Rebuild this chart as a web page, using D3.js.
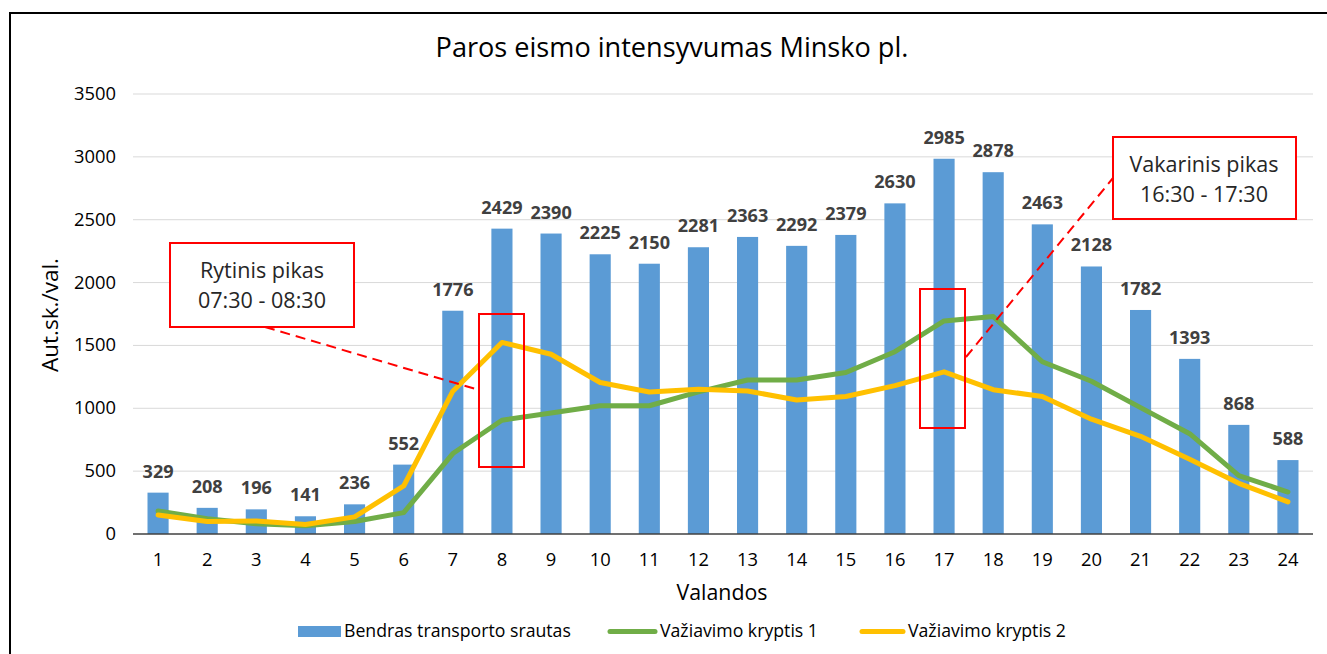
<!DOCTYPE html>
<html>
<head>
<meta charset="UTF-8">
<title>Paros eismo intensyvumas</title>
<script src="https://d3js.org/d3.v7.min.js"></script>
<style>
  body { margin: 0; background: #fff; }
  text { font-family: "Open Sans", sans-serif; }
</style>
</head>
<body>
<div id="chart"></div>
<script>
// hours on the x axis
var hours = d3.range(1, 25).map(String);
// total flow (bars)
var total = [329, 208, 196, 141, 236, 552, 1776, 2429, 2390, 2225, 2150, 2281,
             2363, 2292, 2379, 2630, 2985, 2878, 2463, 2128, 1782, 1393, 868, 588];
// direction 1 (green line)
var dir1 = [183, 122, 82, 65, 100, 170, 640, 905, 962, 1020, 1020, 1130,
            1225, 1225, 1285, 1450, 1695, 1730, 1370, 1215, 1005, 798, 465, 334];
// direction 2 (yellow line)
var dir2 = [151, 100, 103, 76, 136, 382, 1136, 1524, 1430, 1205, 1130, 1151,
            1138, 1066, 1094, 1180, 1290, 1148, 1093, 913, 777, 595, 403, 255];
var yTicks = [0, 500, 1000, 1500, 2000, 2500, 3000, 3500];
var seriesNames = ["Bendras transporto srautas", "Važiavimo kryptis 1", "Važiavimo kryptis 2"];

var width = 1327, height = 654;
var svg = d3.select("#chart").append("svg")
    .attr("width", width)
    .attr("height", height);

// scale a text's font size so it spans the given width
function fit(sel, w) {
    var fs = +sel.attr("font-size");
    var cur = sel.node().getComputedTextLength();
    sel.attr("font-size", (fs * w / cur).toFixed(2));
    return +sel.attr("font-size");
}

// outer frame
svg.append("rect")
    .attr("x", 10).attr("y", 13)
    .attr("width", 1330).attr("height", 660)
    .attr("fill", "none").attr("stroke", "#000").attr("stroke-width", 2);

var x = d3.scaleBand().domain(hours).range([133.5, 1312.5])
    .paddingInner(0.57).paddingOuter(0.285);
var y = d3.scaleLinear().domain([0, 3500]).range([534, 94]);
var cx = function(i) { return x(hours[i]) + x.bandwidth() / 2; };

// title
fit(svg.append("text")
    .attr("x", 672).attr("y", 57)
    .attr("text-anchor", "middle")
    .attr("font-size", 24).attr("fill", "#000")
    .text("Paros eismo intensyvumas Minsko pl."), 473);

// grid lines
svg.append("g").selectAll("line").data(yTicks.slice(1)).enter().append("line")
    .attr("x1", 133).attr("x2", 1313)
    .attr("y1", function(d) { return y(d); })
    .attr("y2", function(d) { return y(d); })
    .attr("stroke", "#d9d9d9").attr("stroke-width", 1);

// tick label size taken from "3500"
var probe = svg.append("text").attr("font-size", 16).text("3500");
var tickSize = fit(probe, 42);
probe.remove();

svg.append("g").selectAll("text").data(yTicks).enter().append("text")
    .attr("x", 116)
    .attr("y", function(d) { return y(d) + 6; })
    .attr("text-anchor", "end")
    .attr("font-size", tickSize).attr("fill", "#000")
    .text(function(d) { return d; });

// bars
svg.append("g").selectAll("rect").data(total).enter().append("rect")
    .attr("x", function(d, i) { return x(hours[i]); })
    .attr("y", function(d) { return y(d); })
    .attr("width", x.bandwidth())
    .attr("height", function(d) { return y(0) - y(d); })
    .attr("fill", "#5B9BD5");

// baseline
svg.append("line")
    .attr("x1", 133).attr("x2", 1313)
    .attr("y1", y(0)).attr("y2", y(0))
    .attr("stroke", "#404040").attr("stroke-width", 1.5);

// x labels
svg.append("g").selectAll("text").data(hours).enter().append("text")
    .attr("x", function(d, i) { return cx(i); })
    .attr("y", 566)
    .attr("text-anchor", "middle")
    .attr("font-size", tickSize).attr("fill", "#000")
    .text(function(d) { return d; });

// lines
var line = d3.line()
    .x(function(d, i) { return cx(i); })
    .y(function(d) { return y(d); });

svg.append("path").datum(dir1)
    .attr("d", line).attr("fill", "none")
    .attr("stroke", "#70AD47").attr("stroke-width", 5)
    .attr("stroke-linejoin", "round").attr("stroke-linecap", "round");
svg.append("path").datum(dir2)
    .attr("d", line).attr("fill", "none")
    .attr("stroke", "#FFC000").attr("stroke-width", 5)
    .attr("stroke-linejoin", "round").attr("stroke-linecap", "round");

// data labels (bold), size taken from "208"
var probe2 = svg.append("text").attr("font-size", 16).attr("font-weight", "bold").text("208");
var labSize = fit(probe2, 31);
probe2.remove();
svg.append("g").selectAll("text").data(total).enter().append("text")
    .attr("x", function(d, i) { return cx(i); })
    .attr("y", function(d) { return y(d) - 15; })
    .attr("text-anchor", "middle")
    .attr("font-size", labSize).attr("font-weight", "bold").attr("fill", "#404040")
    .text(function(d) { return d; });

// axis titles
fit(svg.append("text")
    .attr("x", 722).attr("y", 600)
    .attr("text-anchor", "middle")
    .attr("font-size", 18).attr("fill", "#000")
    .text("Valandos"), 91);
fit(svg.append("text")
    .attr("transform", "translate(58,315) rotate(-90)")
    .attr("text-anchor", "middle")
    .attr("font-size", 18).attr("fill", "#000")
    .text("Aut.sk./val."), 114);

// peak annotations
var red = "#FF0000";
var ann = svg.append("g");
// morning peak
ann.append("rect").attr("x", 479).attr("y", 314).attr("width", 45).attr("height", 153)
    .attr("fill", "none").attr("stroke", red).attr("stroke-width", 2);
ann.append("line").attr("x1", 265).attr("y1", 327).attr("x2", 479).attr("y2", 390)
    .attr("stroke", red).attr("stroke-width", 2).attr("stroke-dasharray", "10,6");
ann.append("rect").attr("x", 170).attr("y", 243).attr("width", 184).attr("height", 84)
    .attr("fill", "#fff").attr("stroke", red).attr("stroke-width", 2);
var annSize = fit(ann.append("text").attr("x", 262).attr("y", 278).attr("text-anchor", "middle")
    .attr("font-size", 19).attr("fill", "#262626").text("Rytinis pikas"), 124);
ann.append("text").attr("x", 262).attr("y", 308).attr("text-anchor", "middle")
    .attr("font-size", annSize).attr("fill", "#262626").text("07:30 - 08:30");
// evening peak
ann.append("rect").attr("x", 920).attr("y", 289).attr("width", 45).attr("height", 139)
    .attr("fill", "none").attr("stroke", red).attr("stroke-width", 2);
ann.append("line").attr("x1", 966).attr("y1", 357).attr("x2", 1113).attr("y2", 178)
    .attr("stroke", red).attr("stroke-width", 2).attr("stroke-dasharray", "10,6");
ann.append("rect").attr("x", 1113).attr("y", 137).attr("width", 183).attr("height", 82)
    .attr("fill", "#fff").attr("stroke", red).attr("stroke-width", 2);
ann.append("text").attr("x", 1204).attr("y", 172).attr("text-anchor", "middle")
    .attr("font-size", annSize).attr("fill", "#262626").text("Vakarinis pikas");
ann.append("text").attr("x", 1204).attr("y", 202).attr("text-anchor", "middle")
    .attr("font-size", annSize).attr("fill", "#262626").text("16:30 - 17:30");

// legend
var leg = svg.append("g");
leg.append("rect").attr("x", 298).attr("y", 626).attr("width", 43).attr("height", 11).attr("fill", "#5B9BD5");
var legSize = fit(leg.append("text").attr("x", 344).attr("y", 637).attr("font-size", 15)
    .attr("fill", "#000").text(seriesNames[0]), 227);
leg.append("line").attr("x1", 610).attr("x2", 655).attr("y1", 631.5).attr("y2", 631.5)
    .attr("stroke", "#70AD47").attr("stroke-width", 5).attr("stroke-linecap", "round");
leg.append("text").attr("x", 660).attr("y", 637).attr("font-size", legSize).attr("fill", "#000").text(seriesNames[1]);
leg.append("line").attr("x1", 862).attr("x2", 903).attr("y1", 631.5).attr("y2", 631.5)
    .attr("stroke", "#FFC000").attr("stroke-width", 5).attr("stroke-linecap", "round");
leg.append("text").attr("x", 908).attr("y", 637).attr("font-size", legSize).attr("fill", "#000").text(seriesNames[2]);
</script>
</body>
</html>
